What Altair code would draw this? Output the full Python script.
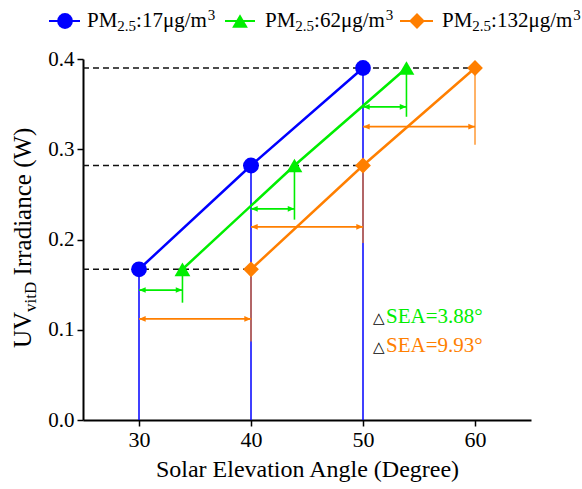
import altair as alt
import pandas as pd

# ---------------- data ----------------
series = ["PM2.5:17μg/m3", "PM2.5:62μg/m3", "PM2.5:132μg/m3"]
blue_x = [30, 40, 50]
green_x = [33.88, 43.88, 53.88]
orange_x = [40, 50, 60]
irradiance = [0.167, 0.282, 0.390]
green_arrow_y = [0.144, 0.234, 0.347]
green_drop_end = [0.130, 0.222, 0.336]
orange_arrow_y = [0.112, 0.214, 0.325]
orange_drop_end = [0.087, 0.196, 0.305]
x_ticks = [30, 40, 50, 60]
y_ticks = [0.0, 0.1, 0.2, 0.3, 0.4]
x_domain = [25, 65]
y_domain = [0, 0.4]
ann_green = "SEA=3.88°"
ann_orange = "SEA=9.93°"
ann_x = 50.9
ann_y = [0.1075, 0.0753]

BLUE, GREEN, ORANGE = "#0000FF", "#00EE00", "#FF7F00"
FONT = "'Liberation Serif', 'Times New Roman', Times, serif"
XTITLE = "Solar Elevation Angle (Degree)"

W, H = 448, 361
OX, OY = 83, 59  # plot origin inside the page

xs = alt.Scale(domain=x_domain, nice=False, zero=False)
ys = alt.Scale(domain=y_domain, nice=False, zero=False)

x_axis = alt.Axis(values=x_ticks, title=XTITLE, grid=False,
                  labelFontSize=22, titleFontSize=24, labelFont=FONT, titleFont=FONT,
                  tickSize=6, domainWidth=2, tickWidth=1.5, domainColor="black",
                  tickColor="black", labelColor="black", titleColor="black",
                  titleFontWeight="normal", labelPadding=3, titlePadding=7)
y_axis = alt.Axis(values=y_ticks, format=".1f", title=None, grid=False,
                  labelFontSize=21, labelFont=FONT, tickSize=6, domainWidth=2,
                  tickWidth=1.5, domainColor="black", tickColor="black",
                  labelColor="black", labelPadding=3)

def X(f):
    return alt.X(f, type="quantitative", scale=xs, axis=x_axis, title=XTITLE)

def Y(f):
    return alt.Y(f, type="quantitative", scale=ys, axis=y_axis, title=None)

# tables built from the arrays
lines = pd.DataFrame({
    "series": [series[0]] * 3 + [series[1]] * 3 + [series[2]] * 3,
    "x": blue_x + green_x + orange_x,
    "y": irradiance * 3,
})
lvl = pd.DataFrame({
    "bx": blue_x, "gx": green_x, "ox": orange_x, "y": irradiance,
    "x0": [x_domain[0]] * 3, "zero": [0] * 3,
    "gay": green_arrow_y, "gde": green_drop_end,
    "oay": orange_arrow_y, "ode": orange_drop_end,
})

color = alt.Color("series:N", scale=alt.Scale(domain=series, range=[BLUE, GREEN, ORANGE]), legend=None)
shape = alt.Shape("series:N", scale=alt.Scale(domain=series, range=["circle", "triangle-up", "diamond"]), legend=None)

base = alt.Chart(lvl)

dashed = base.mark_rule(color="#111111", strokeWidth=1.5, strokeDash=[6, 4]).encode(
    x=X("x0"), x2="ox", y=Y("y"))
blue_drop = base.mark_rule(color=BLUE, strokeWidth=1.5).encode(x=X("bx"), y=Y("y"), y2="zero")
orange_drop = base.mark_rule(color=ORANGE, strokeWidth=1.6, opacity=0.75).encode(x=X("ox"), y=Y("y"), y2="ode")
green_drop = base.mark_rule(color=GREEN, strokeWidth=1.6).encode(x=X("gx"), y=Y("y"), y2="gde")

green_arrow = base.mark_rule(color=GREEN, strokeWidth=1.8).encode(x=X("bx"), x2="gx", y=Y("gay"))
orange_arrow = base.mark_rule(color=ORANGE, strokeWidth=1.8).encode(x=X("bx"), x2="ox", y=Y("oay"))

LEFT_HEAD = "M0,0L1,-0.42L1,0.42Z"
RIGHT_HEAD = "M0,0L-1,-0.42L-1,0.42Z"
heads = []
for col, ycol, c in [("bx", "gay", GREEN), ("bx", "oay", ORANGE)]:
    heads.append(base.mark_point(shape=LEFT_HEAD, filled=True, size=180, color=c, opacity=1)
                 .encode(x=X(col), y=Y(ycol)))
heads.append(base.mark_point(shape=RIGHT_HEAD, filled=True, size=180, color=GREEN, opacity=1)
             .encode(x=X("gx"), y=Y("gay")))
heads.append(base.mark_point(shape=RIGHT_HEAD, filled=True, size=180, color=ORANGE, opacity=1)
             .encode(x=X("ox"), y=Y("oay")))

line_layer = alt.Chart(lines).mark_line(strokeWidth=2.5).encode(
    x=X("x"), y=Y("y"), color=color, detail="series:N")
point_layer = alt.Chart(lines).mark_point(filled=True, size=250, opacity=1).encode(
    x=X("x"), y=Y("y"), color=color, shape=shape)

# annotations
ann = []
for yv, txt, c in [(ann_y[0], ann_green, GREEN), (ann_y[1], ann_orange, ORANGE)]:
    ann.append(alt.Chart(pd.DataFrame({"t": ["△"]})).mark_text(
        align="left", baseline="alphabetic", font="DejaVu Sans", fontSize=15, color="black").encode(
        x=alt.X(datum=ann_x, type="quantitative", scale=xs, axis=x_axis, title=XTITLE),
        y=alt.Y(datum=yv, type="quantitative", scale=ys, axis=y_axis, title=None), text="t:N"))
    ann.append(alt.Chart(pd.DataFrame({"t": [txt]})).mark_text(
        align="left", baseline="alphabetic", font=FONT, fontSize=21, color=c, dx=13).encode(
        x=alt.X(datum=ann_x, type="quantitative", scale=xs, axis=x_axis, title=XTITLE),
        y=alt.Y(datum=yv, type="quantitative", scale=ys, axis=y_axis, title=None), text="t:N"))

# ---------- rich text helpers (page pixel coordinates) ----------
TW = {"P": .556, "M": .889, "2": .5, ".": .25, "5": .5, ":": .278, "1": .5, "7": .5,
      "6": .5, "3": .5, "μ": .576, "g": .5, "/": .278, "m": .778, " ": .25,
      "U": .722, "V": .722, "v": .5, "i": .278, "t": .278, "D": .722, "I": .333,
      "r": .333, "a": .444, "d": .5, "n": .5, "c": .444, "e": .444, "(": .333,
      "W": .944, ")": .333}

def tw(s, size):
    return sum(TW.get(ch, .5) for ch in s) * size

def piece(txt, px, py, size, color="black", angle=0):
    kw = dict(align="left", baseline="alphabetic", font=FONT, fontSize=size, color=color)
    if angle:
        kw["angle"] = angle
    return alt.Chart(pd.DataFrame({"t": [txt]})).mark_text(**kw).encode(
        x=alt.value(px - OX), y=alt.value(py - OY), text="t:N")

extra = []
# legend
legend_items = [(49, 80, 65, 87, "circle", BLUE, "17"),
                (225, 255, 240, 265, "triangle-up", GREEN, "62"),
                (400, 433, 417, 442, "diamond", ORANGE, "132")]
LY = 21
for x1, x2, mx, tx, shp, c, val in legend_items:
    extra.append(alt.Chart(pd.DataFrame({"a": [0]})).mark_rule(color=c, strokeWidth=2).encode(
        x=alt.value(x1 - OX), x2=alt.value(x2 - OX), y=alt.value(LY - OY)))
    extra.append(alt.Chart(pd.DataFrame({"a": [0]})).mark_point(
        shape=shp, filled=True, size=250, color=c, opacity=1).encode(
        x=alt.value(mx - OX), y=alt.value(LY - OY)))
    p = tx
    extra.append(piece("PM", p, 27, 21)); p += tw("PM", 21)
    extra.append(piece("2.5", p, 31, 15)); p += tw("2.5", 15)
    mid = ":" + val + "μg/m"
    extra.append(piece(mid, p, 27, 21)); p += tw(mid, 21)
    extra.append(piece("3", p, 20, 15))

# y axis title, rotated, built from pieces (bottom to top)
yb = 348
extra.append(piece("UV", 31, yb, 25, angle=270)); yb -= tw("UV", 25)
extra.append(piece("vitD", 36, yb, 17, angle=270)); yb -= tw("vitD", 17) + tw(" ", 25)
extra.append(piece("Irradiance (W)", 31, yb, 25, angle=270))

chart = alt.layer(
    dashed, blue_drop, orange_drop, green_drop, green_arrow, orange_arrow, *heads,
    line_layer, point_layer, *ann, *extra
).properties(
    width=W, height=H, background="white",
    autosize=alt.AutoSizeParams(type="none"),
    padding={"left": OX, "top": OY, "right": 582 - OX - W, "bottom": 489 - OY - H},
).configure_view(stroke=None).configure_axis(
    labelFont=FONT, titleFont=FONT, titleFontWeight="normal",
    labelColor="black", titleColor="black")

chart.save("out.html", embed_options={"renderer": "svg", "actions": False})
